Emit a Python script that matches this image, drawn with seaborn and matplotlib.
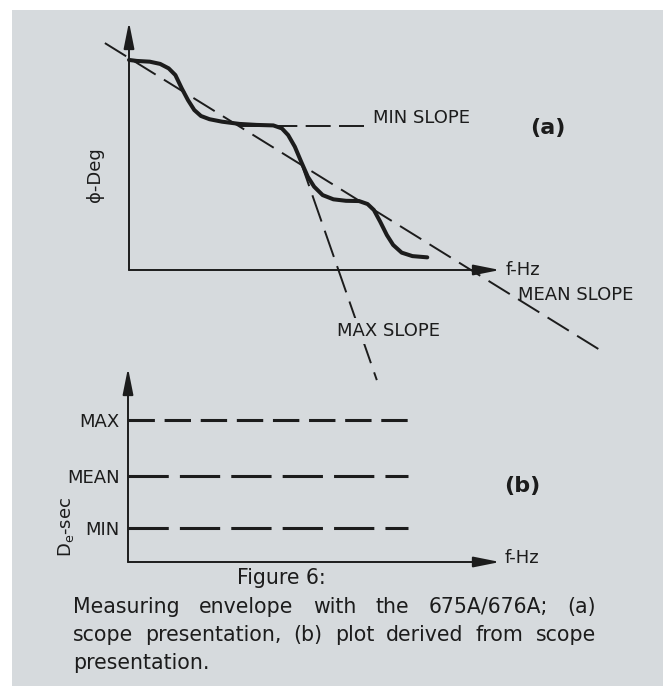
import matplotlib
matplotlib.use("Agg")
import matplotlib.pyplot as plt
import seaborn as sns
import pandas as pd

# panel (a): scope trace, f and phi in percent of the axis length
curve_f = [0, 2.1, 5.6, 8.4, 10.7, 12.5, 14.2, 15.9, 17.6, 19.4, 21.7, 25.1, 29.8,
           34.4, 38.9, 41.2, 42.9, 44.7, 46.4, 48.2, 49.9, 52.2, 55.1, 58.5, 62.0,
           64.3, 66.0, 67.7, 69.5, 71.2, 73.5, 76.4, 80.4]
curve_phi = [84.7, 84.3, 84.0, 83.1, 81.3, 78.6, 73.3, 68.5, 64.5, 62.1, 60.8, 59.8, 58.9,
             58.5, 58.3, 57.1, 54.4, 49.7, 43.7, 37.6, 33.6, 30.2, 28.5, 27.9, 27.8,
             26.6, 24.2, 19.5, 14.1, 10.1, 7.0, 5.6, 5.1]
mean_f = [-6.5, 128.3]
mean_phi = [91.5, -33.5]
min_f = [29.6, 71.7]
min_phi = [58.1, 58.1]
max_f = [46.1, 66.8]
max_phi = [44.4, -44.4]

# panel (b): envelope delay levels
levels = ["MAX", "MEAN", "MIN"]
level_vals = [73.2, 44.3, 17.5]
level_f = [0, 75.3]

caption_title = "Figure 6:"
caption_lines = ["Measuring envelope with the 675A/676A; (a)",
                 "scope presentation, (b) plot derived from scope",
                 "presentation."]

sns.set_theme(style="white")
plt.rcParams["font.family"] = ["DejaVu Sans"]
plt.rcParams["lines.scale_dashes"] = False

ink = "#1c1c1c"
paper = "#d6dadd"
W, H = 670, 686

fig = plt.figure(figsize=(W / 100, H / 100), dpi=100, facecolor="white")

# gray page, coordinates in pixels
bg = fig.add_axes([12 / W, 0, (663 - 12) / W, (686 - 10) / H])
bg.set_xlim(12, 663)
bg.set_ylim(686, 10)
bg.set_facecolor(paper)
for s in bg.spines.values():
    s.set_visible(False)
bg.set_xticks([])
bg.set_yticks([])


def box(l, t, r, b):
    a = fig.add_axes([l / W, 1 - b / H, (r - l) / W, (b - t) / H])
    a.patch.set_alpha(0)
    for s in a.spines.values():
        s.set_visible(False)
    a.set_xlim(0, 100)
    a.set_ylim(0, 100)
    a.set_xticks([])
    a.set_yticks([])
    arrow = dict(arrowstyle="-|>,head_length=0.8,head_width=0.16", lw=1.4, color=ink,
                 shrinkA=0, shrinkB=0, mutation_scale=20)
    a.annotate("", xy=(0, 1), xytext=(0, 0), xycoords="axes fraction", arrowprops=arrow)
    a.annotate("", xy=(1, 0), xytext=(0, 0), xycoords="axes fraction", arrowprops=arrow)
    return a


# ---- panel (a)
ax_a = box(129, 22, 500, 270)
trace = pd.DataFrame({"f": curve_f, "phi": curve_phi})
sns.lineplot(data=trace, x="f", y="phi", ax=ax_a, color=ink, lw=2.9, sort=False,
             solid_capstyle="round", solid_joinstyle="round")
sns.lineplot(x=mean_f, y=mean_phi, ax=ax_a, color=ink, lw=1.4, linestyle=(0, (18, 7)))
sns.lineplot(x=min_f, y=min_phi, ax=ax_a, color=ink, lw=1.4, linestyle=(0, (18, 6)))
sns.lineplot(x=max_f, y=max_phi, ax=ax_a, color=ink, lw=1.4, linestyle=(0, (20, 7)), sort=False)
for ln in ax_a.lines:
    ln.set_clip_on(False)
ax_a.set_xlabel("")
ax_a.set_ylabel("")

fs = 13
ax_a.text(373, 118, "MIN SLOPE", transform=bg.transData, fontsize=fs, color=ink, va="center",
          bbox=dict(facecolor=paper, edgecolor="none", pad=1))
ax_a.text(518, 295, "MEAN SLOPE", transform=bg.transData, fontsize=fs, color=ink, va="center")
ax_a.text(337, 331, "MAX SLOPE", transform=bg.transData, fontsize=fs, color=ink, va="center",
          bbox=dict(facecolor=paper, edgecolor="none", pad=3))
bg.text(506, 270, "f-Hz", fontsize=fs, color=ink, va="center")
bg.text(548, 128, "(a)", fontsize=16, fontweight="bold", color=ink, ha="center", va="center")
bg.text(95, 175, "\u03d5-Deg", fontsize=fs, color=ink, ha="center", va="center", rotation=90)

# ---- panel (b)
ax_b = box(128, 368, 500, 562)
dash_b = {"MAX": (0, (19, 7)), "MEAN": (0, (29, 8)), "MIN": (0, (29, 8))}
for name, v in zip(levels, level_vals):
    sns.lineplot(x=level_f, y=[v, v], ax=ax_b, color=ink, lw=2.2, linestyle=dash_b[name])
ax_b.set_yticks(level_vals)
ax_b.set_yticklabels(levels, fontsize=fs, color=ink)
ax_b.tick_params(axis="y", length=0, pad=6)
ax_b.set_xlabel("")
ax_b.set_ylabel("")
bg.text(505, 558, "f-Hz", fontsize=fs, color=ink, va="center")
bg.text(522, 486, "(b)", fontsize=16, fontweight="bold", color=ink, ha="center", va="center")
bg.text(66, 527, r"D$_\mathregular{e}$-sec", fontsize=fs, color=ink, ha="center", va="center",
        rotation=90)

# ---- caption, justified like the printed page
cap_fs = 14.8
bg.text(281, 578, caption_title, fontsize=cap_fs, color=ink, ha="center", va="center")
renderer = fig.canvas.get_renderer()
x0, x1 = 73, 596
for i, (line, y) in enumerate(zip(caption_lines, [607, 635, 663])):
    words = line.split()
    ts = [bg.text(0, y, w, fontsize=cap_fs, color=ink, va="center") for w in words]
    ws = [t.get_window_extent(renderer).width for t in ts]
    if i < len(caption_lines) - 1 and len(words) > 1:
        gap = (x1 - x0 - sum(ws)) / (len(words) - 1)
    else:
        gap = 5
    x = x0
    for t, w in zip(ts, ws):
        t.set_x(x)
        x += w + gap

fig.savefig("out.png", dpi=100, facecolor="white")
